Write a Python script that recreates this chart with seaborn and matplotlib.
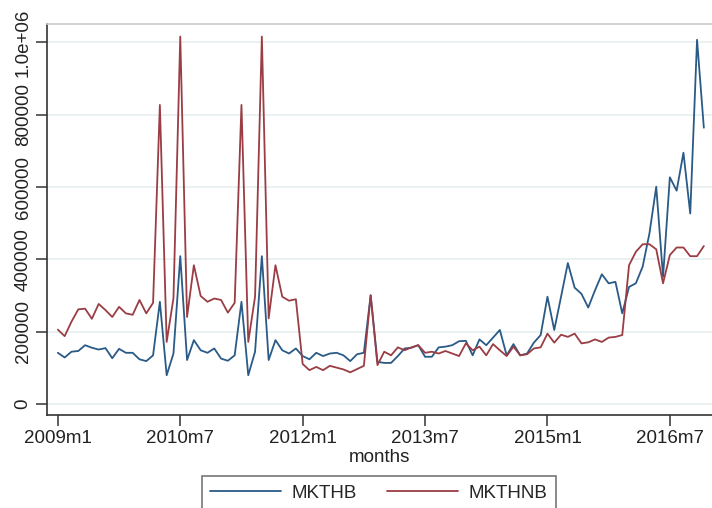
import numpy as np
import pandas as pd
import matplotlib
matplotlib.use("Agg")
import matplotlib.pyplot as plt
import seaborn as sns
from matplotlib.lines import Line2D

# Monthly data, 2009m1 .. 2016m12
months = [f"{y}m{m}" for y in range(2009, 2017) for m in range(1, 13)]

mkthb = [142, 129, 145, 147, 163, 156, 151, 155, 127, 153, 142, 142,
         124, 119, 135, 283, 80, 140, 409, 122, 177, 149, 142, 154,
         126, 120, 135, 283, 80, 145, 409, 122, 177, 149, 140, 154,
         133, 124, 142, 133, 140, 142, 135, 119, 138, 142, 301, 117,
         114, 114, 133, 154, 156, 163, 131, 131, 157, 159, 163, 174,
         175, 135, 179, 163, 184, 205, 135, 166, 135, 140, 170, 191,
         297, 205, 297, 390, 322, 305, 267, 315, 359, 334, 338, 251,
         324, 334, 380, 472, 601, 352, 627, 590, 695, 527, 1007, 764]

mkthnb = [206, 188, 228, 262, 264, 236, 277, 260, 241, 269, 251, 247,
          288, 251, 280, 827, 172, 293, 1016, 241, 384, 299, 283, 292,
          288, 253, 280, 827, 172, 297, 1016, 237, 384, 297, 286, 290,
          111, 94, 103, 94, 106, 101, 96, 88, 97, 106, 301, 108,
          145, 135, 157, 149, 157, 163, 142, 145, 140, 147, 140, 133,
          168, 149, 159, 135, 166, 149, 133, 159, 135, 138, 154, 157,
          195, 170, 192, 186, 195, 168, 171, 179, 172, 184, 186, 191,
          384, 421, 442, 442, 428, 334, 412, 433, 433, 409, 409, 437]

series_names = ["MKTHB", "MKTHNB"]
xtick_labels = ["2009m1", "2010m7", "2012m1", "2013m7", "2015m1", "2016m7"]
ytick_values = [0, 200000, 400000, 600000, 800000, 1000000]
ytick_labels = ["0", "200000", "400000", "600000", "800000", "1.0e+06"]

idx = np.arange(len(months))
df = pd.DataFrame({
    "t": np.concatenate([idx, idx]),
    "value": np.array(mkthb + mkthnb, dtype=float) * 1000,
    "series": [series_names[0]] * len(months) + [series_names[1]] * len(months),
})

sns.set_style("white")
plt.rcParams["font.family"] = ["Liberation Sans", "DejaVu Sans"]

fig = plt.figure(figsize=(7.12, 5.08), dpi=100)
ax = fig.add_axes([0.066, 0.183, 0.934, 0.770])

palette = {"MKTHB": "#2a5a86", "MKTHNB": "#9a3d44"}
sns.lineplot(data=df, x="t", y="value", hue="series", palette=palette,
             linewidth=1.3, ax=ax, legend=False)

ax.set_xlim(-1.6, 96.2)
ax.set_ylim(-30000, 1051000)

tick_pos = [months.index(l) for l in xtick_labels]
ax.set_xticks(tick_pos)
ax.set_xticklabels(xtick_labels, fontsize=13.5, color="#222222")
ax.set_yticks(ytick_values)
ax.set_yticklabels(ytick_labels, fontsize=13.5, rotation=90, va="center",
                   color="#222222")

ax.tick_params(axis="both", direction="out", length=8, width=1.1,
               color="#333333", pad=3, bottom=True, left=True)

for y in ytick_values:
    ax.axhline(y, color="#eaf1f2", lw=1.4, zorder=0)

ax.set_xlabel("months", fontsize=13.5, color="#222222", labelpad=1)
ax.set_ylabel("")

for side in ["left", "bottom"]:
    ax.spines[side].set_color("#333333")
    ax.spines[side].set_linewidth(1.2)
ax.spines["top"].set_color("#c8cccc")
ax.spines["top"].set_linewidth(1.2)
ax.spines["right"].set_visible(False)

handles = [Line2D([0], [0], color=palette[n], lw=1.3) for n in series_names]
leg = fig.legend(handles, series_names, loc="upper center",
                 bbox_to_anchor=(0.532, 0.063), borderaxespad=0, ncol=2,
                 fontsize=13.5, frameon=True, fancybox=False,
                 edgecolor="#555555", handlelength=3.8, handletextpad=0.55,
                 columnspacing=1.6, borderpad=0.45)
leg.get_frame().set_linewidth(1.2)

fig.savefig("out.png", dpi=100)
